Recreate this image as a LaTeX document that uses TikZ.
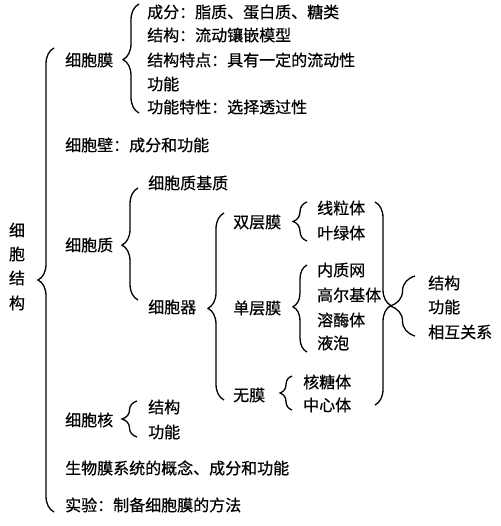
\documentclass[tikz,border=0pt]{standalone}
\usepackage{fontspec}
\newfontfamily\cjk[FakeBold=0.6]{Noto Sans CJK SC}
\usetikzlibrary{decorations.pathreplacing}
\begin{document}
\begin{tikzpicture}[x=1pt,y=-1pt,
  lbl/.style={anchor=west,inner sep=0pt,font=\cjk\fontsize{16}{18}\selectfont},
  vch/.style={inner sep=0pt,font=\cjk\fontsize{16}{18}\selectfont},
  brc/.style={decorate,decoration={brace,amplitude=#1},line width=1.3pt},
  brc/.default=15]
\useasboundingbox (0,0) rectangle (500,526);
% vertical title
\node[vch] (t1) at (17,230) {细};
\node[vch] (t2) at (17,254) {胞};
\node[vch] (t3) at (17,278) {结};
\node[vch] (t4) at (17,303) {构};
% big brace
\coordinate (bbB) at (54,512);
\coordinate (bbT) at (54,48);
\draw[brc=16,decoration={aspect=0.5}] (bbB) -- (bbT);
% cell membrane
\node[lbl] (mem) at (65,60) {细胞膜};
\coordinate (memB) at (139,113);
\coordinate (memT) at (139,4);
\draw[brc=16,decoration={aspect=0.49}] (memB) -- (memT);
\node[lbl] (m1) at (147,12) {成分：脂质、蛋白质、糖类};
\node[lbl] (m2) at (147,35) {结构：流动镶嵌模型};
\node[lbl] (m3) at (147,60) {结构特点：具有一定的流动性};
\node[lbl] (m4) at (147,84) {功能};
\node[lbl] (m5) at (147,107) {功能特性：选择透过性};
% cell wall
\node[lbl] (wall) at (65,145) {细胞壁：成分和功能};
% cytoplasm
\node[lbl] (cyt) at (65,245) {细胞质};
\coordinate (cytB) at (138,300);
\coordinate (cytT) at (138,188);
\draw[brc=16,decoration={aspect=0.49}] (cytB) -- (cytT);
\node[lbl] (mat) at (148,183) {细胞质基质};
\node[lbl] (org) at (148,307) {细胞器};
\coordinate (orgB) at (224,400);
\coordinate (orgT) at (224,213);
\draw[brc=16,decoration={aspect=0.49}] (orgB) -- (orgT);
% double membrane
\node[lbl] (dbl) at (233,222) {双层膜};
\coordinate (dblB) at (307,241);
\coordinate (dblT) at (307,202);
\draw[brc=14] (dblB) -- (dblT);
\node[lbl] (d1) at (317,208) {线粒体};
\node[lbl] (d2) at (317,233) {叶绿体};
% single membrane
\node[lbl] (sgl) at (233,308) {单层膜};
\coordinate (sglB) at (307,352);
\coordinate (sglT) at (307,265);
\draw[brc=14,decoration={aspect=0.52}] (sglB) -- (sglT);
\node[lbl] (s1) at (317,270) {内质网};
\node[lbl] (s2) at (317,295) {高尔基体};
\node[lbl] (s3) at (317,320) {溶酶体};
\node[lbl] (s4) at (317,343) {液泡};
% no membrane
\node[lbl] (non) at (233,395) {无膜};
\coordinate (nonB) at (292,410);
\coordinate (nonT) at (292,376);
\draw[brc=12] (nonB) -- (nonT);
\node[lbl] (n1) at (303,382) {核糖体};
\node[lbl] (n2) at (303,405) {中心体};
% closing brace and result brace
\coordinate (rbT) at (375,202);
\coordinate (rbB) at (375,405);
\draw[brc=16,decoration={aspect=0.51}] (rbT) -- (rbB);
\coordinate (lbB) at (415,336);
\coordinate (lbT) at (415,276);
\draw[brc=25,decoration={aspect=0.5}] (lbB) -- (lbT);
\node[lbl] (r1) at (428,283) {结构};
\node[lbl] (r2) at (428,307) {功能};
\node[lbl] (r3) at (428,332) {相互关系};
% nucleus
\node[lbl] (nuc) at (65,420) {细胞核};
\coordinate (nucB) at (137,437);
\coordinate (nucT) at (137,401);
\draw[brc=15] (nucB) -- (nucT);
\node[lbl] (k1) at (148,407) {结构};
\node[lbl] (k2) at (148,432) {功能};
% bottom lines
\node[lbl] (bio) at (65,468) {生物膜系统的概念、成分和功能};
\node[lbl] (exp) at (65,505) {实验：制备细胞膜的方法};
\end{tikzpicture}
\end{document}
